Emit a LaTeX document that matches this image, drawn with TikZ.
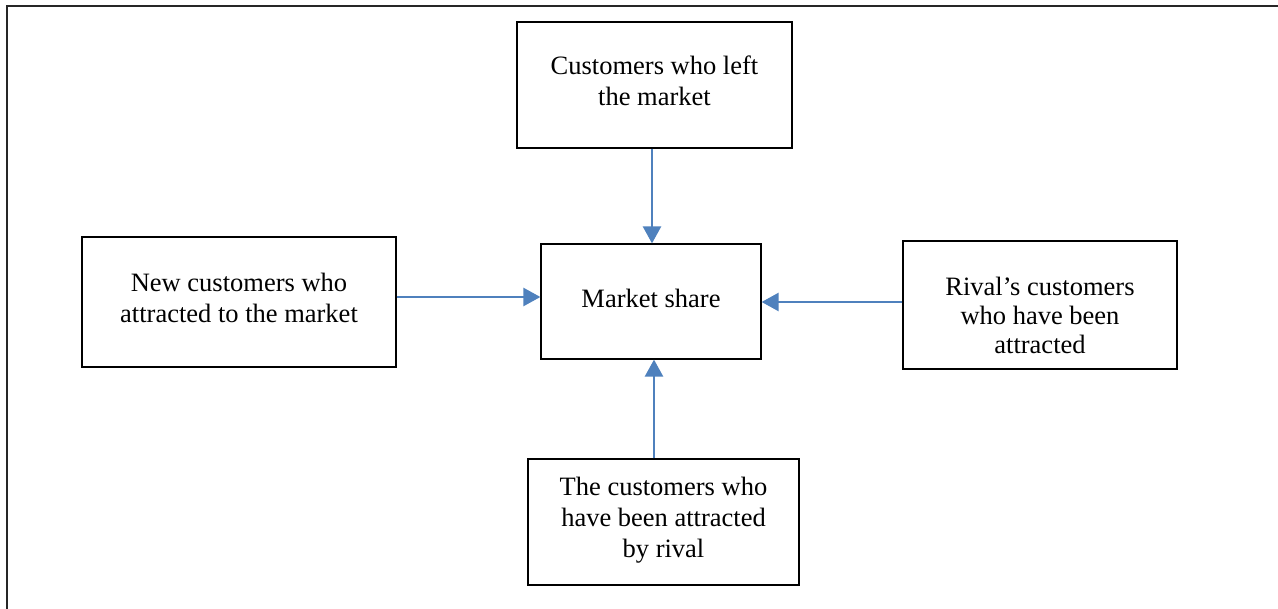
\documentclass[tikz,border=0pt]{standalone}
\usepackage{fontspec}
\setmainfont{Liberation Serif}
\usetikzlibrary{arrows.meta}
\definecolor{arrblue}{RGB}{79,129,189}
\newcommand{\bxtext}[4]{\parbox[c][#2][t]{#1}{\centering\vspace*{#3}#4\par}}
\tikzset{
  box/.style={draw=black, line width=1.2pt, rectangle, inner sep=0pt,
    font=\fontsize{26.5}{31}\selectfont},
  conn/.style={draw=arrblue, line width=2.5pt, -{Triangle[length=17pt,width=18pt]}},
  frame/.style={draw=black!85, line width=2pt}
}
\begin{document}
\begin{tikzpicture}[x=1pt,y=-1pt]
\useasboundingbox (0,0) rectangle (1278,609);
\coordinate (fbl) at (6.5,612);
\coordinate (ftl) at (6.5,6);
\coordinate (ftr) at (1280,6);
\draw[frame] (fbl) -- (ftl) -- (ftr);
\node[box] (t) at (654.5,85) {\bxtext{275pt}{126pt}{34pt}{Customers who left\\the market}};
\node[box] (m) at (651,301.5) {\bxtext{220pt}{115pt}{45pt}{Market share}};
\node[box] (l) at (239,302) {\bxtext{314pt}{130pt}{36pt}{New customers who\\attracted to the market}};
\node[box, font=\fontsize{26.5}{29}\selectfont] (r) at (1040,305) {\bxtext{274pt}{128pt}{36pt}{Rival's customers\\who have been\\attracted}};
\node[box] (b) at (663.5,522) {\bxtext{271pt}{126pt}{18pt}{The customers who\\have been attracted\\by rival}};
\draw[conn] ([xshift=-2.5pt]t.south) -- ([xshift=-2.5pt]t.south |- m.north);
\draw[conn] ([yshift=5pt]l.east) -- ([yshift=5pt]l.east -| m.west);
\draw[conn] ([yshift=3pt]r.west) -- ([yshift=3pt]r.west -| m.east);
\draw[conn] ([xshift=3pt]m.south |- b.north) -- ([xshift=3pt]m.south);
\end{tikzpicture}
\end{document}
